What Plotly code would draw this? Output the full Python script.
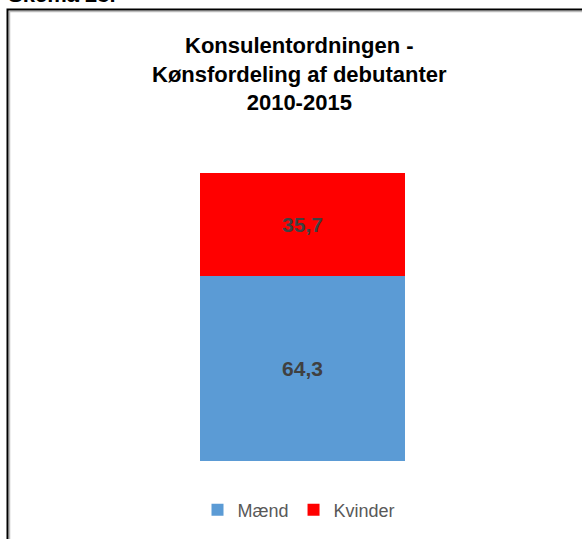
import plotly.graph_objects as go

W, H = 582, 539

categories = ["2010-2015"]
maend = [64.3]
kvinder = [35.7]
series_names = ["Mænd", "Kvinder"]
colors = ["#5B9BD5", "#FF0000"]
title_lines = ["Konsulentordningen -", "Kønsfordeling af debutanter", "2010-2015"]
header = "Skema 23."

def px(x):
    return x / W

def py(y):
    return 1 - y / H

fig = go.Figure()
for name, vals, col in zip(series_names, [maend, kvinder], colors):
    fig.add_trace(go.Bar(
        x=categories, y=vals, name=name, marker=dict(color=col, line=dict(width=0)),
        width=0.4, texttemplate="%{y:.1f}", textposition="inside", insidetextanchor="middle",
        textfont=dict(family="Liberation Sans, Arial", size=21, color="#404040", weight="bold"),
        hoverinfo="skip",
    ))

fig.update_layout(
    width=W, height=H, barmode="stack", separators=",.",
    margin=dict(l=0, r=0, t=0, b=0),
    paper_bgcolor="white", plot_bgcolor="white",
    font=dict(family="Liberation Sans, Arial"),
    xaxis=dict(domain=[px(46.25), px(558.75)], range=[-0.5, 0.5], visible=False),
    yaxis=dict(domain=[py(461), py(173)], range=[0, 100], visible=False),
    showlegend=True,
    legend=dict(orientation="h", x=px(299), xanchor="center", y=py(510), yanchor="middle",
                traceorder="normal", font=dict(size=18, color="#595959"),
                itemwidth=30, bgcolor="rgba(0,0,0,0)"),
)

fig.add_annotation(
    text="<br>".join(title_lines), x=px(299), y=py(74), xref="paper", yref="paper",
    xanchor="center", yanchor="middle", showarrow=False, align="center",
    font=dict(size=22, color="black", weight="bold"),
)
fig.add_annotation(
    text=header, x=px(6), y=py(9), xref="paper", yref="paper",
    xanchor="left", yanchor="bottom", showarrow=False,
    font=dict(size=22, color="black", weight="bold"),
)

# frame
fig.add_shape(type="path", xref="paper", yref="paper",
              path=f"M {px(9.5)} {py(539)} L {px(9.5)} {py(11.5)} L {px(582)} {py(11.5)}",
              line=dict(color="#BBBBBB", width=1.5))
fig.add_shape(type="path", xref="paper", yref="paper",
              path=f"M {px(7.5)} {py(539)} L {px(7.5)} {py(9.5)} L {px(582)} {py(9.5)}",
              line=dict(color="black", width=2))

fig.write_html("out.html", config={"displayModeBar": False},
               post_script="document.body.style.margin='0px';document.body.style.padding='0px';")
